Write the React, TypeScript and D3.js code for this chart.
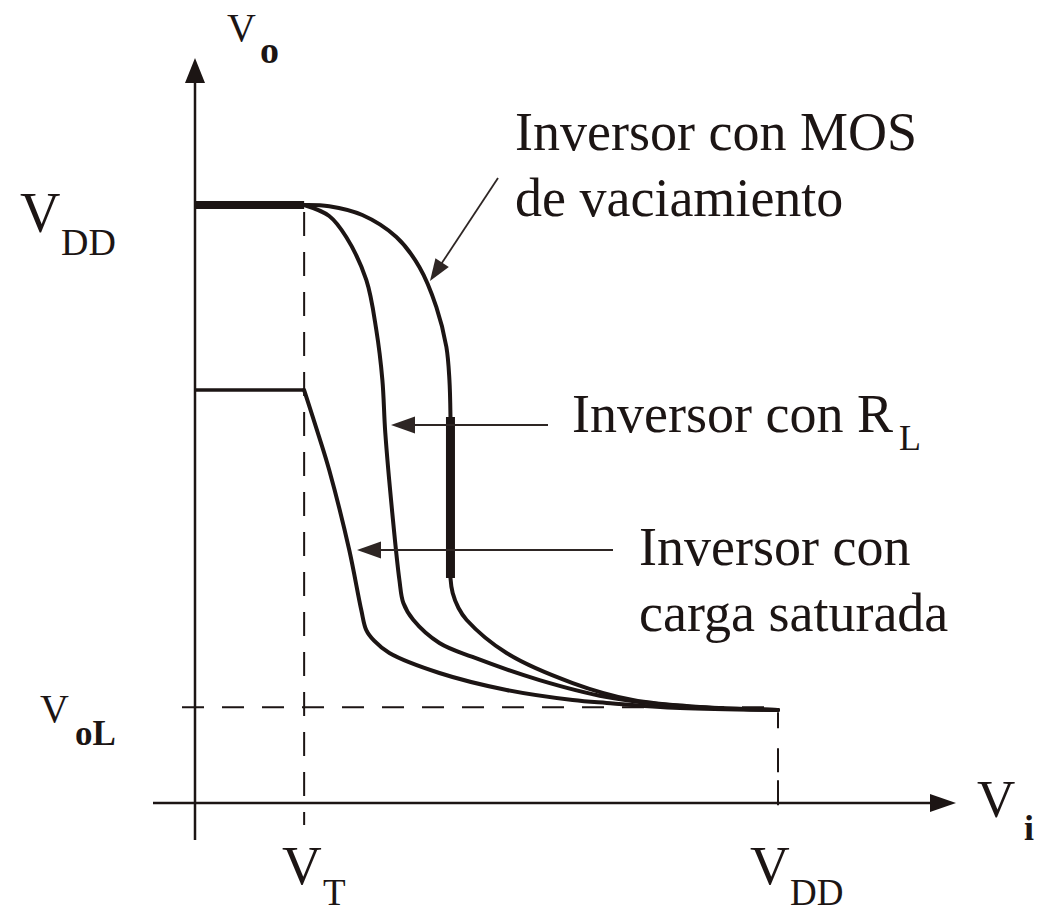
import React from 'react';
import * as d3 from 'd3';

type Pt = [number, number];

// Supply and threshold levels (normalised volts)
const VDD = 5;
const VT = 0.936;
const VOL = 0.8;
const VOH_SAT = 3.453;

// Transfer curves Vo(Vi) for the three inverter loads
const saturatedLoad: Pt[] = [
  [0.936, 3.453], [1.065, 3.06], [1.151, 2.784], [1.323, 2.115], [1.426, 1.614],
  [1.469, 1.446], [1.538, 1.355], [1.667, 1.254], [2.096, 1.087], [2.672, 0.945],
  [3.239, 0.861], [3.531, 0.836], [4.158, 0.794], [5.0, 0.778],
];

const resistorLoad: Pt[] = [
  [0.936, 5.0], [1.151, 4.908], [1.297, 4.732], [1.469, 4.373], [1.555, 3.955],
  [1.607, 3.537], [1.632, 3.094], [1.692, 2.425], [1.753, 1.865], [1.787, 1.672],
  [1.873, 1.53], [2.096, 1.338], [2.38, 1.221], [2.955, 1.028], [3.531, 0.886],
  [4.158, 0.811], [5.0, 0.778],
];

const depletionLoad: Pt[] = [
  [0.936, 5.0], [1.151, 4.99], [1.435, 4.916], [1.727, 4.732], [1.924, 4.482],
  [2.07, 4.147], [2.156, 3.813], [2.182, 3.537], [2.191, 3.227], [2.191, 1.881],
  [2.21, 1.756], [2.26, 1.63], [2.33, 1.53], [2.672, 1.254], [3.239, 1.003],
  [3.754, 0.861], [4.33, 0.803], [5.0, 0.778],
];

// Steep (high-gain) stretch of the depletion-load curve, drawn heavier
const depletionSteep: Pt[] = [[2.191, 3.227], [2.191, 1.881]];

const W = 1039;
const H = 914;
const INK = '#1c1514';
const FONT = "'Liberation Serif', 'Times New Roman', serif";

const x = d3.scaleLinear().domain([0, VDD]).range([195, 778]);
const y = d3.scaleLinear().domain([0, VDD]).range([803, 205]);

const curve = d3
  .line<Pt>()
  .x((d) => x(d[0]))
  .y((d) => y(d[1]))
  .curve(d3.curveCatmullRom.alpha(0.5));

const straight = d3
  .line<Pt>()
  .x((d) => x(d[0]))
  .y((d) => y(d[1]));

function head(x1: number, y1: number, x2: number, y2: number, len: number, half: number) {
  const dx = x2 - x1;
  const dy = y2 - y1;
  const L = Math.hypot(dx, dy);
  const ux = dx / L;
  const uy = dy / L;
  const bx = x2 - ux * len;
  const by = y2 - uy * len;
  return `${x2},${y2} ${bx - uy * half},${by + ux * half} ${bx + uy * half},${by - ux * half}`;
}

function Arrow({ x1, y1, x2, y2, w = 1.8, len = 22, half = 8, color = '#2e2624' }: any) {
  const dx = x2 - x1;
  const dy = y2 - y1;
  const L = Math.hypot(dx, dy);
  const ex = x2 - (dx / L) * (len - 2);
  const ey = y2 - (dy / L) * (len - 2);
  return (
    <g>
      <line x1={x1} y1={y1} x2={ex} y2={ey} stroke={color} strokeWidth={w} />
      <polygon points={head(x1, y1, x2, y2, len, half)} fill={color} />
    </g>
  );
}

function Sym({ x0, base, main, sub, size, subSize, subDx, subDy, subBold }: any) {
  return (
    <g fill={INK} fontFamily={FONT}>
      <text x={x0} y={base} fontSize={size}>{main}</text>
      <text x={x0 + subDx} y={base + subDy} fontSize={subSize} fontWeight={subBold ? 'bold' : 'normal'}>
        {sub}
      </text>
    </g>
  );
}

export default function App() {
  const x0 = x(0);
  const y0 = y(0);
  return (
    <svg
      width={W}
      height={H}
      viewBox={`0 0 ${W} ${H}`}
      style={{ position: 'absolute', left: 0, top: 0, display: 'block', background: '#fff' }}
    >
      <rect width={W} height={H} fill="#fff" />

      {/* guide lines */}
      <g stroke={INK} strokeWidth={2} fill="none" strokeDasharray="24 16">
        <line x1={x(VT)} y1={y(VDD) + 7} x2={x(VT)} y2={y0 + 22} />
        <line x1={x(VDD)} y1={y(VOL) + 5} x2={x(VDD)} y2={y0 + 9} strokeDasharray="16 20 24 8 9 0" />
        <line x1={x0 - 13} y1={y(VOL)} x2={x(VDD)} y2={y(VOL)} strokeDasharray="22 18" />
      </g>

      {/* axes */}
      <g stroke={INK} strokeWidth={2.5}>
        <line x1={x0} y1={y0 + 37} x2={x0} y2={80} />
        <line x1={153} y1={y0} x2={935} y2={y0} />
      </g>
      <polygon points={head(x0, 200, x0, 58, 25, 10)} fill={INK} />
      <polygon points={head(800, y0, 956, y0, 26, 9)} fill={INK} />

      {/* output-high levels */}
      <path d={straight([[0, VDD], [VT, VDD]]) || ''} stroke={INK} strokeWidth={8} fill="none" />
      <path d={straight([[0, VOH_SAT], [VT, VOH_SAT]]) || ''} stroke={INK} strokeWidth={3.5} fill="none" />

      {/* transfer curves */}
      <g stroke={INK} fill="none" strokeLinecap="round" strokeLinejoin="round">
        <path d={curve(saturatedLoad) || ''} strokeWidth={4} />
        <path d={curve(resistorLoad) || ''} strokeWidth={4} />
        <path d={curve(depletionLoad) || ''} strokeWidth={4} />
        <path d={straight(depletionSteep) || ''} strokeWidth={9} strokeLinecap="butt" />
      </g>

      {/* annotation arrows */}
      <Arrow x1={498} y1={178} x2={430} y2={281} />
      <Arrow x1={548} y1={425} x2={391} y2={425} len={24} half={8.5} />
      <Arrow x1={613} y1={550} x2={357} y2={550} len={24} half={8.5} />

      {/* annotation labels */}
      <g fill={INK} fontFamily={FONT} fontSize={54}>
        <text x={515} y={150}>Inversor con MOS</text>
        <text x={515} y={216}>de vaciamiento</text>
        <text x={572} y={432}>Inversor con R</text>
        <text x={639} y={565}>Inversor con</text>
        <text x={639} y={631}>carga saturada</text>
      </g>
      <text x={899} y={450} fill={INK} fontFamily={FONT} fontSize={36}>L</text>

      {/* axis symbols */}
      <Sym x0={227} base={41} main="V" sub="o" size={40} subSize={38} subDx={33} subDy={22} subBold />
      <Sym x0={20} base={232} main="V" sub="DD" size={56} subSize={38} subDx={41} subDy={23} />
      <Sym x0={40} base={722} main="V" sub="oL" size={40} subSize={35} subDx={35} subDy={23} subBold />
      <Sym x0={282} base={884} main="V" sub="T" size={55} subSize={37} subDx={41} subDy={21} />
      <Sym x0={750} base={884} main="V" sub="DD" size={55} subSize={37} subDx={40} subDy={21} />
      <Sym x0={977} base={817} main="V" sub="i" size={53} subSize={36} subDx={47} subDy={23} subBold />
    </svg>
  );
}
